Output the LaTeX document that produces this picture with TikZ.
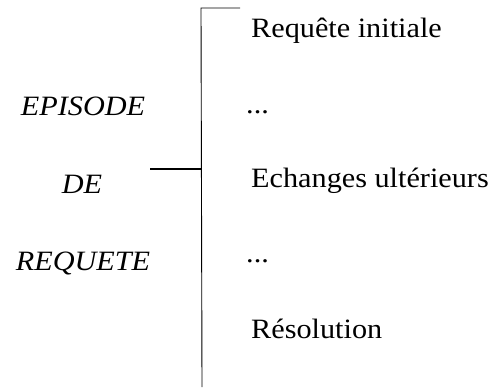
\documentclass[tikz,border=0pt]{standalone}
\usepackage{fontspec}
\setmainfont[FakeStretch=1.08]{Liberation Serif}
\usepackage{tikz}
\tikzset{
	item/.style={anchor=base west, inner sep=0pt, font=\fontsize{28}{34}\selectfont},
	phase/.style={anchor=base, inner sep=0pt, font=\fontsize{28}{34}\selectfont\itshape}
}

\begin{document}
\begin{tikzpicture}[x=1pt, y=-1pt]
			%%%%% START %%%%%
			
			\useasboundingbox (0, 0) rectangle (498, 391);
			
			\coordinate (top) at (201, 8);
			\coordinate (hook) at (240, 8);
			\coordinate (bottom) at (202, 387);
			\coordinate (mid) at (201.5, 169);
			\coordinate (tick) at (150, 169);
			
			\draw[line width=0.9pt] (hook) -- (top) -- (bottom);
			\draw[line width=1.8pt] (tick) -- (mid);
			
			\node[item] (initiale) at (251, 37) {Requête initiale};
			\node[item] (dotsa) at (246, 113) {...};
			\node[item] (echanges) at (251, 187) {Echanges ultérieurs};
			\node[item] (dotsb) at (246, 262) {...};
			\node[item] (resolution) at (251, 338) {Résolution};
			
			\node[phase] (episode) at (83, 115) {EPISODE};
			\node[phase] (de) at (82, 193) {DE};
			\node[phase] (requete) at (83, 270) {REQUETE};
			
			%%%%% END %%%%%
		\end{tikzpicture}
\end{document}
